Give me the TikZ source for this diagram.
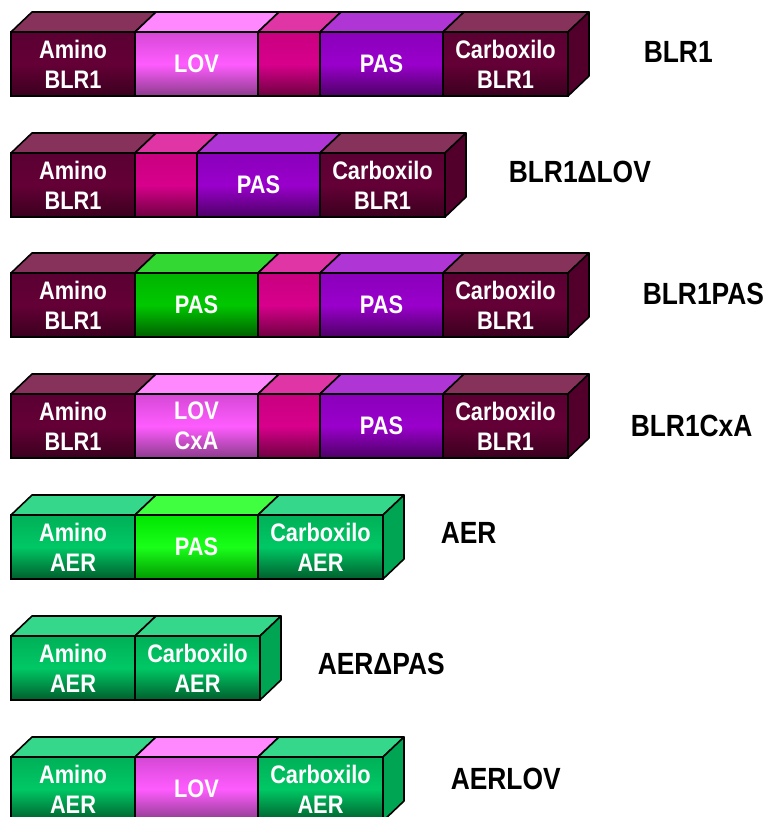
\documentclass[tikz,border=0pt]{standalone}
\usepackage{fontspec}
\setmainfont{Liberation Sans}[FakeStretch=0.86]
\usepackage{tikz}
\usetikzlibrary{positioning}

\definecolor{blrdarktop}{HTML}{86325A}
\definecolor{blrdarkside}{HTML}{52002B}
\definecolor{lovtop}{HTML}{FF88FF}
\definecolor{linktop}{HTML}{E035A5}
\definecolor{pasviolettop}{HTML}{B035D5}
\definecolor{aergreentop}{HTML}{35D88A}
\definecolor{aergreenside}{HTML}{00A553}
\definecolor{pasgreentop}{HTML}{33D833}
\definecolor{pasbrighttop}{HTML}{40FF40}

% one domain: name, x, y, width, scheme, text
\newcommand{\domain}[6]{%
\node[dom,#5,minimum width=#4*0.75pt] (#1) at (#2,#3) {#6};
\filldraw[fill=#5top,line join=round] (#1.north west) -- ++(21,-20) -- ([shift={(21,-20)}]#1.north east) -- (#1.north east) -- cycle;}
% right end of a bar: name, scheme
\newcommand{\domainend}[2]{%
\filldraw[fill=#2side,line join=round] (#1.north east) -- ++(21,-20) -- ++(0,64) -- (#1.south east) -- cycle;}

\begin{document}
\begin{tikzpicture}[x=0.75pt,y=-0.75pt,line width=1.2pt,
dom/.style={draw=black,anchor=north west,minimum height=48pt,inner sep=0pt,outer sep=0pt,align=center,text=white,font=\fontsize{19}{22.5}\selectfont\bfseries},
blrdark/.style={top color={rgb,255:red,90;green,0;blue,50},bottom color={rgb,255:red,58;green,0;blue,30},middle color={rgb,255:red,100;green,0;blue,54}},
lov/.style={top color={rgb,255:red,213;green,72;blue,213},bottom color={rgb,255:red,140;green,60;blue,140},middle color={rgb,255:red,255;green,92;blue,255}},
link/.style={top color={rgb,255:red,200;green,0;blue,127},bottom color={rgb,255:red,110;green,0;blue,64},middle color={rgb,255:red,216;green,0;blue,140}},
pasviolet/.style={top color={rgb,255:red,138;green,0;blue,186},bottom color={rgb,255:red,77;green,0;blue,102},middle color={rgb,255:red,154;green,0;blue,204}},
aergreen/.style={top color={rgb,255:red,0;green,176;blue,88},bottom color={rgb,255:red,0;green,94;blue,44},middle color={rgb,255:red,0;green,200;blue,101}},
pasgreen/.style={top color={rgb,255:red,0;green,180;blue,0},bottom color={rgb,255:red,0;green,95;blue,0},middle color={rgb,255:red,0;green,200;blue,0}},
pasbright/.style={top color={rgb,255:red,0;green,230;blue,0},bottom color={rgb,255:red,0;green,153;blue,0},middle color={rgb,255:red,26;green,255;blue,26}},
idlabel/.style={anchor=west,inner sep=0pt,font=\fontsize{23}{26}\selectfont\bfseries}]
\clip (0,0) rectangle (766,817);
% BLR1
\domain{amA}{11}{32}{124}{blrdark}{Amino\\BLR1}
\domain{amB}{135}{32}{123}{lov}{LOV}
\domain{amC}{258}{32}{62}{link}{}
\domain{amD}{320}{32}{123}{pasviolet}{PAS}
\domain{amE}{443}{32}{125}{blrdark}{Carboxilo\\BLR1}
\domainend{amE}{blrdark}
% BLR1 delta LOV
\domain{dlA}{11}{153}{124}{blrdark}{Amino\\BLR1}
\domain{dlB}{135}{153}{62}{link}{}
\domain{dlC}{197}{153}{123}{pasviolet}{PAS}
\domain{dlD}{320}{153}{125}{blrdark}{Carboxilo\\BLR1}
\domainend{dlD}{blrdark}
% BLR1PAS
\domain{bpA}{11}{273}{124}{blrdark}{Amino\\BLR1}
\domain{bpB}{135}{273}{123}{pasgreen}{PAS}
\domain{bpC}{258}{273}{62}{link}{}
\domain{bpD}{320}{273}{123}{pasviolet}{PAS}
\domain{bpE}{443}{273}{125}{blrdark}{Carboxilo\\BLR1}
\domainend{bpE}{blrdark}
% BLR1CxA
\domain{cxA}{11}{394}{124}{blrdark}{Amino\\BLR1}
\domain{cxB}{135}{394}{123}{lov}{LOV\\CxA}
\domain{cxC}{258}{394}{62}{link}{}
\domain{cxD}{320}{394}{123}{pasviolet}{PAS}
\domain{cxE}{443}{394}{125}{blrdark}{Carboxilo\\BLR1}
\domainend{cxE}{blrdark}
% AER
\domain{aeA}{11}{515}{124}{aergreen}{Amino\\AER}
\domain{aeB}{135}{515}{123}{pasbright}{PAS}
\domain{aeC}{258}{515}{125}{aergreen}{Carboxilo\\AER}
\domainend{aeC}{aergreen}
% AER delta PAS
\domain{dpA}{11}{636}{124}{aergreen}{Amino\\AER}
\domain{dpB}{135}{636}{125}{aergreen}{Carboxilo\\AER}
\domainend{dpB}{aergreen}
% AERLOV
\domain{alA}{11}{757}{124}{aergreen}{Amino\\AER}
\domain{alB}{135}{757}{123}{lov}{LOV}
\domain{alC}{258}{757}{125}{aergreen}{Carboxilo\\AER}
\domainend{alC}{aergreen}
\begin{scope}
\node[idlabel] (nBLR) at (643,52) {BLR1};
\node[idlabel] (nDLOV) at (508,172) {BLR1ΔLOV};
\node[idlabel] (nBPAS) at (642,294) {BLR1PAS};
\node[idlabel] (nCXA) at (630,426) {BLR1CxA};
\node[idlabel] (nAER) at (440,533) {AER};
\node[idlabel] (nDPAS) at (317,664) {AERΔPAS};
\node[idlabel] (nALOV) at (450,779) {AERLOV};
\end{scope}
\end{tikzpicture}
\end{document}
